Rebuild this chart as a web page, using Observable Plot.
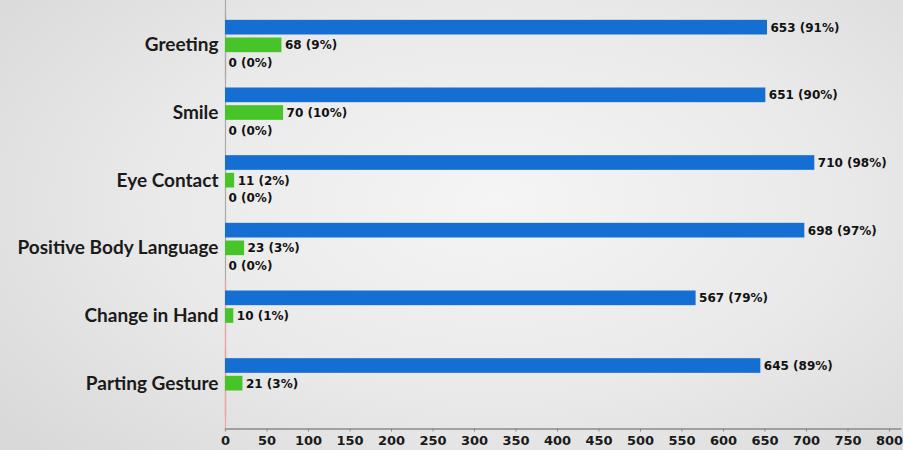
<!DOCTYPE html>
<html><head><meta charset="utf-8">
<script src="https://cdn.jsdelivr.net/npm/d3@7"></script>
<script src="https://cdn.jsdelivr.net/npm/@observablehq/plot@0.6"></script>
<style>
html,body{margin:0;padding:0;}
body{width:903px;height:450px;overflow:hidden;background:radial-gradient(ellipse 70% 80% at 55% 45%, #f5f5f5 0%, #e9e9e9 55%, #d9d9d9 100%);}
</style></head><body><div id="chart"></div>
<script>
const categories = ["Greeting", "Smile", "Eye Contact", "Positive Body Language", "Change in Hand", "Parting Gesture"];
const seriesKeys = ["s1", "s2", "s3"];
const seriesColors = ["#156ed2", "#46c42a", "#f2a3a3"];
const s1Values = [653, 651, 710, 698, 567, 645];
const s1Pct = [91, 90, 98, 97, 79, 89];
const s2Values = [68, 70, 11, 23, 10, 21];
const s2Pct = [9, 10, 2, 3, 1, 3];
const s3Values = [0, 0, 0, 0, 0, 0];
const s3Pct = [0, 0, 0, 0, null, null];
const xTicks = [0, 50, 100, 150, 200, 250, 300, 350, 400, 450, 500, 550, 600, 650, 700, 750, 800];

const rows = [];
categories.forEach((c, i) => {
  rows.push({category: c, series: "s1", value: s1Values[i], label: `${s1Values[i]} (${s1Pct[i]}%)`});
  rows.push({category: c, series: "s2", value: s2Values[i], label: `${s2Values[i]} (${s2Pct[i]}%)`});
  rows.push({category: c, series: "s3", value: s3Values[i], label: s3Pct[i] == null ? null : `${s3Values[i]} (${s3Pct[i]}%)`});
});
const unlabeled = rows.filter(d => d.series === "s3" && d.label == null);

const chart = Plot.plot({
  width: 903, height: 450,
  marginLeft: 225, marginRight: 14, marginTop: 11, marginBottom: 33,
  style: {background: "transparent", fontFamily: "DejaVu Sans", color: "#111"},
  x: {domain: [0, 800], label: null},
  y: {domain: seriesKeys, paddingInner: 0.17, paddingOuter: 0.5, axis: null, round: false},
  fy: {domain: categories, padding: 0, label: null, axis: null, round: false},
  color: {domain: seriesKeys, range: seriesColors},
  marks: [
    Plot.ruleX(categories, {x: 0, fy: d => d, stroke: "#a8a8a8", strokeWidth: 1.2}),
    Plot.ruleX(categories.slice(0, 1), {x: 0, fy: d => d, insetTop: -11, stroke: "#a8a8a8", strokeWidth: 1.2}),
    Plot.ruleX(unlabeled, {x: 0, fy: "category", stroke: "#f4a0a0", strokeWidth: 1.2}),
    Plot.ruleX(unlabeled.slice(-1), {x: 0, fy: "category", insetBottom: -11.5, stroke: "#f4a0a0", strokeWidth: 1.2}),
    Plot.barX(rows, {x: "value", y: "series", fy: "category", fill: "series"}),
    Plot.text(rows.filter(d => d.label), {x: "value", y: "series", fy: "category", text: "label", textAnchor: "start", dx: 3, fontSize: 12, fontWeight: "bold", fill: "#111", fontFamily: "DejaVu Sans"}),
    Plot.axisFy({anchor: "left", tickSize: 0, tickPadding: 7, fontSize: 19, fontFamily: "Lato", fontWeight: "bold", fill: "#1a1a1a", label: null}),
    Plot.axisX({anchor: "bottom", ticks: xTicks, tickSize: 3, tickPadding: 4, dy: 11.5, fontSize: 13, fontWeight: "bold", fill: "#1a1a1a", stroke: "#888", label: null}),
    Plot.frame({anchor: "bottom", facetAnchor: "bottom", insetBottom: -11.5, insetRight: -11, stroke: "#8a8a8a", strokeWidth: 1.5})
  ]
});
document.getElementById("chart").appendChild(chart);
</script></body></html>
